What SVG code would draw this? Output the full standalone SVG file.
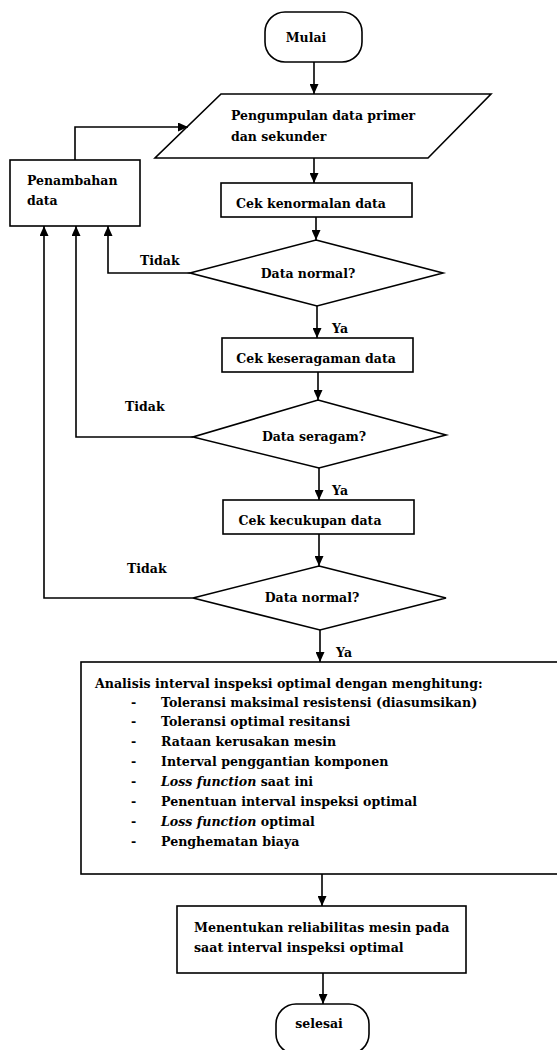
<svg xmlns="http://www.w3.org/2000/svg" width="557" height="1050" viewBox="0 0 557 1050">
<defs>
<marker id="ah" markerUnits="userSpaceOnUse" markerWidth="10" markerHeight="9" refX="10" refY="4.5" orient="auto">
<path d="M0,0 L10,4.5 L0,9 z" fill="#000"/>
</marker>
<style>
.shape{fill:#fff;stroke:#000;stroke-width:1.6}
.t{font-family:"DejaVu Serif","Liberation Serif",serif;font-size:12.5px;font-weight:bold;fill:#000}
.s{font-family:"DejaVu Serif","Liberation Serif",serif;font-size:12.6px;font-weight:bold;fill:#000}
.c{text-anchor:middle}
.conn path{fill:none;stroke:#000;stroke-width:1.6;marker-end:url(#ah)}
</style>
</defs>
<rect width="557" height="1050" fill="#fff"/>
<g id="mulai"><rect class="shape" x="265" y="12" width="97" height="50" rx="20" ry="20"/><text class="t c" x="306" y="42">Mulai</text></g>
<g id="pengumpulan"><polygon class="shape" points="221,94 491,94 428,158 155,158"/><text class="t" x="231" y="119.5">Pengumpulan data primer</text><text class="t" x="231" y="140.5">dan sekunder</text></g>
<g id="penambahan"><rect class="shape" x="10" y="160" width="130" height="66"/><text class="t" x="27" y="184.5">Penambahan</text><text class="t" x="27" y="204.5">data</text></g>
<g id="cek-normal"><rect class="shape" x="221" y="183" width="191" height="34"/><text class="t c" x="311" y="207.5">Cek kenormalan data</text></g>
<g id="dec-normal1"><polygon class="shape" points="316,240 443,273 317,306 190,273"/><text class="t c" x="308" y="277.5">Data normal?</text></g>
<g id="cek-seragam"><rect class="shape" x="222" y="338" width="191" height="34"/><text class="t c" x="316" y="362.5">Cek keseragaman data</text></g>
<g id="dec-seragam"><polygon class="shape" points="318,400 446,435 319,468 193,437"/><text class="t c" x="314" y="440.5">Data seragam?</text></g>
<g id="cek-cukup"><rect class="shape" x="223" y="500" width="191" height="34"/><text class="t c" x="310" y="524.5">Cek kecukupan data</text></g>
<g id="dec-normal2"><polygon class="shape" points="319,566 446,598 320,630 193,598"/><text class="t c" x="312" y="601.5">Data normal?</text></g>
<g id="analisis"><rect class="shape" x="81" y="662" width="490" height="212"/>
<text class="s" x="95" y="687.5">Analisis interval inspeksi optimal dengan menghitung:</text>
<text class="s" x="131" y="706.5">-</text><text class="s" x="161" y="706.5">Toleransi maksimal resistensi (diasumsikan)</text>
<text class="s" x="131" y="726">-</text><text class="s" x="161" y="726">Toleransi optimal resitansi</text>
<text class="s" x="131" y="745.5">-</text><text class="s" x="161" y="745.5">Rataan kerusakan mesin</text>
<text class="s" x="131" y="765.5">-</text><text class="s" x="161" y="765.5">Interval penggantian komponen</text>
<text class="s" x="131" y="786">-</text><text class="s" x="161" y="786"><tspan font-style="italic">Loss function</tspan> saat ini</text>
<text class="s" x="131" y="806">-</text><text class="s" x="161" y="806">Penentuan interval inspeksi optimal</text>
<text class="s" x="131" y="826">-</text><text class="s" x="161" y="826"><tspan font-style="italic">Loss function</tspan> optimal</text>
<text class="s" x="131" y="845.5">-</text><text class="s" x="161" y="845.5">Penghematan biaya</text>
</g>
<g id="menentukan"><rect class="shape" x="177" y="906" width="289" height="67"/><text class="s" x="194" y="931.5">Menentukan reliabilitas mesin pada</text><text class="s" x="194" y="951.5">saat interval inspeksi optimal</text></g>
<g id="selesai"><rect class="shape" x="276" y="1004" width="93" height="50" rx="20" ry="20"/><text class="t c" x="319" y="1027.5">selesai</text></g>
<g class="conn" id="connectors">
<path d="M314,62 V94"/>
<path d="M314,158 V183"/>
<path d="M316,217 V240"/>
<path d="M317,306 V338"/>
<path d="M318,372 V400"/>
<path d="M319,468 V500"/>
<path d="M319,534 V566"/>
<path d="M320,630 V662"/>
<path d="M322,874 V906"/>
<path d="M323,973 V1004"/>
<path d="M190,273 H108 V226"/>
<path d="M193,437 H76 V226"/>
<path d="M193,598 H44 V226"/>
<path d="M75,160 V127 H188"/>
</g>
<g id="labels">
<text class="t" x="140" y="264.5">Tidak</text>
<text class="t" x="125" y="411">Tidak</text>
<text class="t" x="127" y="572.5">Tidak</text>
<text class="t" x="332" y="332.5">Ya</text>
<text class="t" x="332" y="494.5">Ya</text>
<text class="t" x="336" y="656.5">Ya</text>
</g>
</svg>
